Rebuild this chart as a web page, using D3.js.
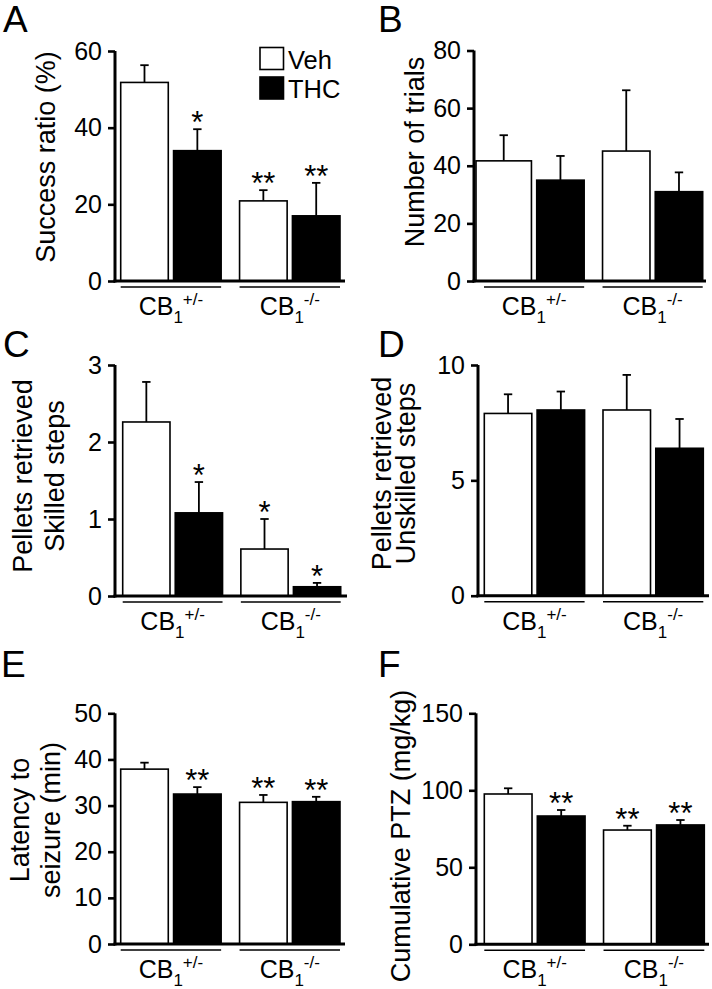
<!DOCTYPE html>
<html><head><meta charset="utf-8">
<script src="https://cdn.jsdelivr.net/npm/d3@7"></script>
<style>
body{margin:0;background:#fff}
svg{display:block}
text{font-family:"Liberation Sans",Arial,Helvetica,sans-serif;fill:#000}
</style>
</head><body>
<svg id="chart" width="712" height="989"></svg>
<script>
// ---------- DATA ----------
const groups = ["CB1+/-", "CB1-/-"];
const groupSup = ["+/-", "-/-"];
const treatments = ["Veh", "THC"];

// A: Success ratio (%)
const aVeh = [51.8, 20.9], aVehErr = [4.5, 2.8];
const aThc = [34.0, 17.0], aThcErr = [5.6, 8.6];
const aVehSig = ["", "**"], aThcSig = ["*", "**"];
const aTicks = [0, 20, 40, 60];

// B: Number of trials
const bVeh = [41.7, 45.1], bVehErr = [8.9, 21.1];
const bThc = [35.0, 31.0], bThcErr = [8.4, 6.7];
const bVehSig = ["", ""], bThcSig = ["", ""];
const bTicks = [0, 20, 40, 60, 80];

// C: Pellets retrieved, skilled steps
const cVeh = [2.26, 0.61], cVehErr = [0.52, 0.39];
const cThc = [1.08, 0.12], cThcErr = [0.40, 0.05];
const cVehSig = ["", "*"], cThcSig = ["*", "*"];
const cTicks = [0, 1, 2, 3];

// D: Pellets retrieved, unskilled steps
const dVeh = [7.9, 8.05], dVehErr = [0.83, 1.52];
const dThc = [8.05, 6.39], dThcErr = [0.80, 1.27];
const dVehSig = ["", ""], dThcSig = ["", ""];
const dTicks = [0, 5, 10];

// E: Latency to seizure (min)
const eVeh = [37.9, 30.7], eVehErr = [1.4, 1.6];
const eThc = [32.5, 30.85], eThcErr = [1.5, 1.05];
const eVehSig = ["", "**"], eThcSig = ["**", "**"];
const eTicks = [0, 10, 20, 30, 40, 50];

// F: Cumulative PTZ (mg/kg)
const fVeh = [97.6, 74.2], fVehErr = [3.7, 2.8];
const fThc = [83.3, 77.5], fThcErr = [3.9, 3.2];
const fVehSig = ["", "**"], fThcSig = ["**", "**"];
const fTicks = [0, 50, 100, 150];

// ---------- LAYOUT ----------
const panels = [
  {letter:"A", lx:3, ly:32, axisX:115, xr:[120.7,340], xEnd:345, yr:[281,51], max:60, ticks:aTicks,
   veh:aVeh, vehErr:aVehErr, thc:aThc, thcErr:aThcErr, vehSig:aVehSig, thcSig:aThcSig,
   label:["Success ratio (%)"], labX:[55], labY:157, legend:true},
  {letter:"B", lx:378, ly:32, axisX:474, xr:[484,702.7], xEnd:706, yr:[281,50.5], max:80, ticks:bTicks,
   veh:bVeh, vehErr:bVehErr, thc:bThc, thcErr:bThcErr, vehSig:bVehSig, thcSig:bThcSig,
   label:["Number of trials"], labX:[424], labY:152, firstBarFromAxis:true},
  {letter:"C", lx:3, ly:357, axisX:115, xr:[122.7,340.7], xEnd:347, yr:[596,365], max:3, ticks:cTicks,
   veh:cVeh, vehErr:cVehErr, thc:cThc, thcErr:cThcErr, vehSig:cVehSig, thcSig:cThcSig,
   label:["Pellets retrieved","Skilled steps"], labX:[32,64], labY:476},
  {letter:"D", lx:378, ly:357, axisX:478, xr:[484.3,703.3], xEnd:709, yr:[595.7,365], max:10, ticks:dTicks,
   veh:dVeh, vehErr:dVehErr, thc:dThc, thcErr:dThcErr, vehSig:dVehSig, thcSig:dThcSig,
   label:["Pellets retrieved","Unskilled steps"], labX:[391,414.5], labY:473.5},
  {letter:"E", lx:1, ly:677, axisX:115, xr:[120.7,340], xEnd:345, yr:[944,713.3], max:50, ticks:eTicks,
   veh:eVeh, vehErr:eVehErr, thc:eThc, thcErr:eThcErr, vehSig:eVehSig, thcSig:eThcSig,
   label:["Latency to","seizure (min)"], labX:[28.5,60], labY:820},
  {letter:"F", lx:378, ly:677, axisX:476, xr:[484.3,704.3], xEnd:709, yr:[944.3,713.3], max:150, ticks:fTicks,
   veh:fVeh, vehErr:fVehErr, thc:fThc, thcErr:fThcErr, vehSig:fVehSig, thcSig:fThcSig,
   label:["Cumulative PTZ (mg/kg)"], labX:[409.5], labY:836}
];

const svg = d3.select("#chart");
const fill = {Veh:"#fff", THC:"#000"};

panels.forEach(p => {
  const g = svg.append("g");
  const y = d3.scaleLinear().domain([0, p.max]).range(p.yr);
  const outer = d3.scaleBand().domain(groups).range(p.xr).paddingInner(0.155).paddingOuter(0);
  const inner = d3.scaleBand().domain(treatments).range([0, outer.bandwidth()]).paddingInner(0.1).paddingOuter(0);

  g.append("text").attr("x", p.lx).attr("y", p.ly).attr("font-size", 37).text(p.letter);

  p.label.forEach((t, i) => {
    g.append("text").attr("font-size", 27).attr("text-anchor", "middle")
      .attr("transform", `translate(${p.labX[i]},${p.labY}) rotate(-90)`)
      .text(t);
  });

  const rows = [];
  groups.forEach((gr, gi) => {
    rows.push({g:gr, t:"Veh", v:p.veh[gi], e:p.vehErr[gi], s:p.vehSig[gi], first: gi === 0});
    rows.push({g:gr, t:"THC", v:p.thc[gi], e:p.thcErr[gi], s:p.thcSig[gi], first: false});
  });
  const bx0 = d => outer(d.g) + inner(d.t);
  const bx = d => (p.firstBarFromAxis && d.first) ? p.axisX + 2 : bx0(d);
  const bw = d => (p.firstBarFromAxis && d.first) ? bx0(d) + inner.bandwidth() - (p.axisX + 2) : inner.bandwidth();
  const cx = d => bx(d) + bw(d) / 2;

  g.selectAll("line.err").data(rows).join("line")
    .attr("x1", cx).attr("x2", cx)
    .attr("y1", d => y(d.v)).attr("y2", d => y(d.v + d.e))
    .attr("stroke", "#000").attr("stroke-width", 1.8);
  g.selectAll("line.cap").data(rows).join("line")
    .attr("x1", d => cx(d) - 4.2).attr("x2", d => cx(d) + 4.2)
    .attr("y1", d => y(d.v + d.e)).attr("y2", d => y(d.v + d.e))
    .attr("stroke", "#000").attr("stroke-width", 1.8);

  g.selectAll("rect.bar").data(rows).join("rect")
    .attr("x", bx).attr("width", bw)
    .attr("y", d => y(d.v)).attr("height", d => y(0) - y(d.v))
    .attr("fill", d => fill[d.t]).attr("stroke", "#000").attr("stroke-width", 1.6);

  g.selectAll("text.sig").data(rows.filter(d => d.s)).join("text")
    .attr("x", cx).attr("y", d => y(d.v + d.e) + 4)
    .attr("text-anchor", "middle").attr("font-size", 31).text(d => d.s);

  const ax = g.append("g").attr("transform", `translate(${p.axisX},0)`)
    .call(d3.axisLeft(y).tickValues(p.ticks).tickSize(7).tickPadding(6).tickSizeOuter(0).tickFormat(d3.format("d")));
  ax.select(".domain").attr("stroke-width", 3).attr("d", `M0,${p.yr[1]}V${p.yr[0] + 1.5}`);
  ax.selectAll(".tick line").attr("stroke-width", 2.6);
  ax.selectAll(".tick text").attr("font-size", 25).attr("font-family", '"Liberation Sans",Arial,sans-serif');
  ax.attr("font-size", null).attr("font-family", null);

  g.append("line").attr("x1", p.axisX - 1.5).attr("x2", p.xEnd)
    .attr("y1", y(0)).attr("y2", y(0)).attr("stroke", "#000").attr("stroke-width", 3);

  groups.forEach((gr, gi) => {
    const x0 = outer(gr), x1 = outer(gr) + outer.bandwidth();
    g.append("line").attr("x1", x0).attr("x2", x1)
      .attr("y1", y(0) + 6).attr("y2", y(0) + 6).attr("stroke", "#000").attr("stroke-width", 1.5);
    const t = g.append("text").attr("x", (x0 + x1) / 2).attr("y", y(0) + 34)
      .attr("text-anchor", "middle").attr("font-size", 25);
    t.append("tspan").text("CB");
    t.append("tspan").attr("font-size", 17).attr("dy", 8).text("1");
    t.append("tspan").attr("font-size", 17).attr("dy", -18).text(groupSup[gi]);
  });

  if (p.legend) {
    treatments.forEach((tr, i) => {
      const ly = 47.5 + i * 29.5;
      g.append("rect").attr("x", 260).attr("y", ly).attr("width", 23.5).attr("height", 22)
        .attr("fill", fill[tr]).attr("stroke", "#000").attr("stroke-width", 1.6);
      g.append("text").attr("x", 288).attr("y", ly + 21).attr("font-size", 25.5).text(tr);
    });
  }
});
</script>
</body></html>
